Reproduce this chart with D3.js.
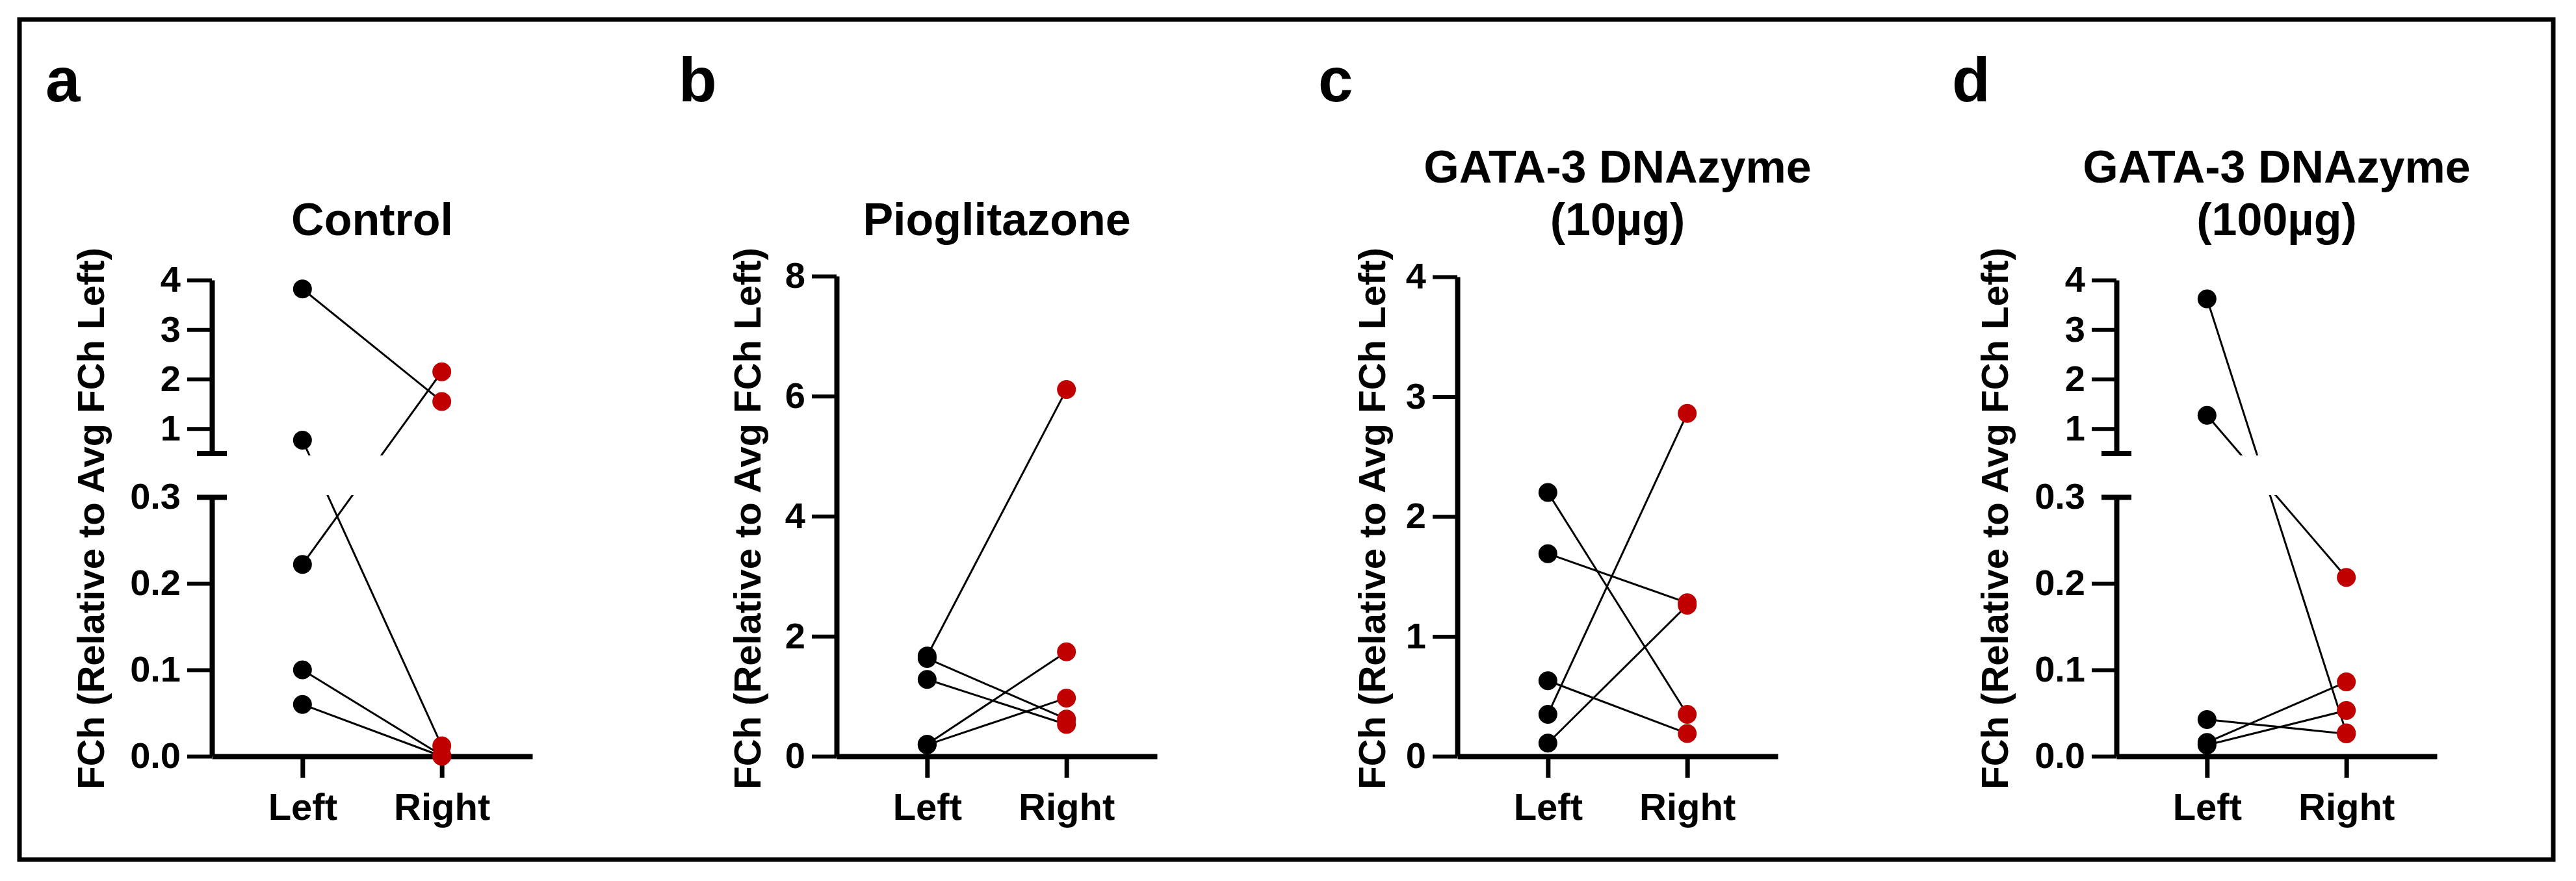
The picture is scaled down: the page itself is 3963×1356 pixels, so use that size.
<!DOCTYPE html>
<html>
<head>
<meta charset="utf-8">
<script src="https://cdn.jsdelivr.net/npm/d3@7"></script>
<style>
  html, body { margin: 0; padding: 0; background: #fff; }
  svg { display: block; }
  text { font-family: "Liberation Sans", Arial, Helvetica, sans-serif; font-weight: bold; fill: #000; }
</style>
</head>
<body>
<svg id="chart" width="3963" height="1356"></svg>
<script>
// ---------------- DATA ----------------
const categories = ["Left", "Right"];
const panelLetters = ["a", "b", "c", "d"];
const panelTitles = [["Control"], ["Pioglitazone"], ["GATA-3 DNAzyme", "(10µg)"], ["GATA-3 DNAzyme", "(100µg)"]];
const yAxisTitle = "FCh (Relative to Avg FCh Left)";

// paired values (Left[i] -> Right[i])
const controlLeft  = [3.82, 0.77, 0.222, 0.100, 0.060];
const controlRight = [1.55, 0.012, 2.15, 0.001, 0.000];
const pioLeft      = [1.67, 1.63, 1.28, 0.20, 0.19];
const pioRight     = [6.11, 0.62, 0.53, 1.74, 0.97];
const dz10Left     = [2.20, 1.69, 0.63, 0.35, 0.11];
const dz10Right    = [0.35, 1.28, 0.19, 2.86, 1.26];
const dz100Left    = [3.62, 1.27, 0.0425, 0.016, 0.013];
const dz100Right   = [0.027, 0.207, 0.026, 0.086, 0.053];

// axis ticks
const brokenUpperTicks = [1, 2, 3, 4];
const brokenLowerTicks = [0.0, 0.1, 0.2, 0.3];
const pioTicks = [0, 2, 4, 6, 8];
const dz10Ticks = [0, 1, 2, 3, 4];

// ---------------- LAYOUT / STYLE ----------------
const RED = "#C00000";
const axisBottomY = 1164;
const plotWidth = 493;
const layout = [
  { ox: 326,  letterX: 70,   yTitleX: 160,  broken: true },
  { ox: 1287, letterX: 1044, yTitleX: 1170, broken: false, top: 425 },
  { ox: 2242, letterX: 2028, yTitleX: 2131, broken: false, top: 426 },
  { ox: 3256, letterX: 3003, yTitleX: 3089, broken: true }
];
const panels = [
  { left: controlLeft, right: controlRight, ticks: null },
  { left: pioLeft, right: pioRight, ticks: pioTicks, max: 8 },
  { left: dz10Left, right: dz10Right, ticks: dz10Ticks, max: 4 },
  { left: dz100Left, right: dz100Right, ticks: null }
];

const svg = d3.select("#chart");

// outer frame
svg.append("rect")
  .attr("x", 30).attr("y", 30).attr("width", 3898).attr("height", 1293)
  .attr("fill", "none").attr("stroke", "#000").attr("stroke-width", 7);

const TICK = 38, TICKPAD = 10, AXW = 8, TICKW = 6;

function styleAxis(g) {
  g.select(".domain").attr("stroke", "#000").attr("stroke-width", AXW).attr("stroke-linecap", "butt");
  g.selectAll(".tick line").attr("stroke", "#000").attr("stroke-width", TICKW);
  g.selectAll(".tick text").attr("font-size", 56).attr("font-family", null).attr("fill", "#000");
}

panels.forEach((p, i) => {
  const L = layout[i];
  const g = svg.append("g").attr("transform", `translate(${L.ox},0)`);

  // panel letter
  svg.append("text").attr("x", L.letterX).attr("y", 156)
    .attr("font-size", 96).text(panelLetters[i]);

  // title
  const tl = panelTitles[i];
  tl.forEach((t, k) => {
    g.append("text").attr("x", plotWidth / 2).attr("y", 362 - (tl.length - 1 - k) * 81)
      .attr("text-anchor", "middle").attr("font-size", 70).text(t);
  });

  // y title
  svg.append("text")
    .attr("transform", `translate(${L.yTitleX},798) rotate(-90)`)
    .attr("text-anchor", "middle").attr("font-size", 58).text(yAxisTitle);

  // x scale
  const x = d3.scalePoint().domain(categories).range([0, plotWidth]).padding(0.65);

  // y scale
  let yFn, clipRects;
  if (L.broken) {
    const yLower = d3.scaleLinear().domain([0, 0.3]).range([axisBottomY, 765]);
    const yUpper = d3.scaleLinear().domain([0.5, 4]).range([698, 431]);
    yFn = v => (v <= 0.3 ? yLower(v) : yUpper(v));

    const gl = g.append("g").call(d3.axisLeft(yLower).tickValues(brokenLowerTicks)
      .tickFormat(d3.format(".1f")).tickSize(TICK).tickSizeOuter(0).tickPadding(TICKPAD));
    styleAxis(gl);
    gl.selectAll(".tick").filter(d => d === 0.3).select("line").attr("x1", -23).attr("x2", 23).attr("stroke-width", AXW);

    const gu = g.append("g").call(d3.axisLeft(yUpper).tickValues(brokenUpperTicks)
      .tickFormat(d3.format("d")).tickSize(TICK).tickSizeOuter(0).tickPadding(TICKPAD));
    styleAxis(gu);
    // lower cap of the upper segment
    gu.append("line").attr("x1", -23).attr("x2", 23).attr("y1", yUpper(0.5)).attr("y2", yUpper(0.5))
      .attr("stroke", "#000").attr("stroke-width", AXW);

    clipRects = [[0, 701], [762, 1356]];
  } else {
    const y = d3.scaleLinear().domain([0, p.max]).range([axisBottomY, L.top]);
    yFn = v => y(v);
    const ga = g.append("g").call(d3.axisLeft(y).tickValues(p.ticks).tickFormat(d3.format("d"))
      .tickSize(TICK).tickSizeOuter(0).tickPadding(TICKPAD));
    styleAxis(ga);
    clipRects = [[0, 1356]];
  }

  // x axis
  const gx = g.append("g").attr("transform", `translate(0,${axisBottomY})`)
    .call(d3.axisBottom(x).tickSize(33).tickSizeOuter(0).tickPadding(24));
  gx.select(".domain").attr("stroke", "#000").attr("stroke-width", AXW);
  gx.selectAll(".tick line").attr("stroke", "#000").attr("stroke-width", 7);
  gx.selectAll(".tick text").attr("font-size", 58).attr("font-family", null).attr("fill", "#000");

  // clip for connecting lines (hide axis-break gap)
  const clipId = "clip" + i;
  const cp = svg.append("clipPath").attr("id", clipId);
  clipRects.forEach(r => cp.append("rect").attr("x", -100).attr("y", r[0]).attr("width", 800).attr("height", r[1] - r[0]));

  const pairs = p.left.map((l, k) => ({ l, r: p.right[k] }));

  g.append("g").attr("clip-path", `url(#${clipId})`)
    .selectAll("line.pair").data(pairs).join("line")
    .attr("class", "pair")
    .attr("x1", x("Left")).attr("y1", d => yFn(d.l))
    .attr("x2", x("Right")).attr("y2", d => yFn(d.r))
    .attr("stroke", "#000").attr("stroke-width", 3);

  g.append("g").selectAll("circle.l").data(p.left).join("circle")
    .attr("class", "l").attr("cx", x("Left")).attr("cy", d => yFn(d)).attr("r", 14.5).attr("fill", "#000");
  g.append("g").selectAll("circle.r").data(p.right).join("circle")
    .attr("class", "r").attr("cx", x("Right")).attr("cy", d => yFn(d)).attr("r", 14.5).attr("fill", RED);
});
</script>
</body>
</html>
